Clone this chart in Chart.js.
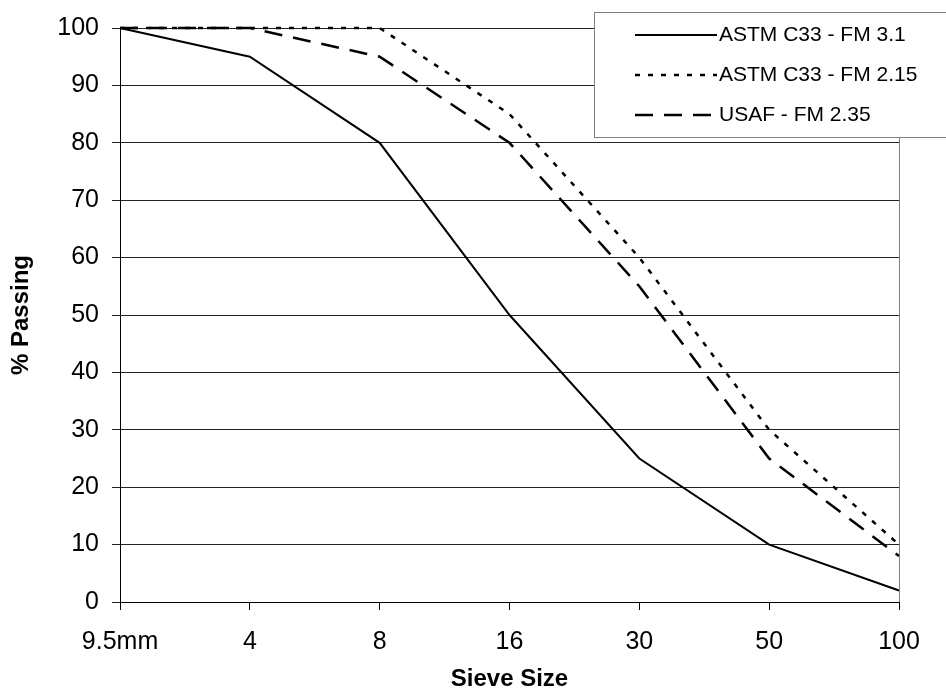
<!DOCTYPE html>
<html>
<head>
<meta charset="utf-8">
<script src="https://cdn.jsdelivr.net/npm/chart.js@4.4.1/dist/chart.umd.min.js"></script>
<style>
  html, body { margin: 0; padding: 0; background: #fff; }
  #wrap { width: 946px; height: 700px; }
</style>
</head>
<body>
<div id="wrap"><canvas id="c" width="946" height="700"></canvas></div>
<script>
const categories = ["9.5mm", "4", "8", "16", "30", "50", "100"];
const seriesNames = ["ASTM C33 - FM 3.1", "ASTM C33 - FM 2.15", "USAF - FM 2.35"];
const astmFM31 = [100, 95, 80, 50, 25, 10, 2];
const astmFM215 = [100, 100, 100, 85, 60, 30, 10];
const usafFM235 = [100, 100, 95, 80, 55, 25, 8];
const yTicks = { min: 0, max: 100, step: 10 };

const FONT = "'Liberation Sans', Arial, Helvetica, sans-serif";

const rightBorder = {
  id: 'rightBorder',
  afterDatasetsDraw(chart) {
    const { ctx, chartArea } = chart;
    ctx.save();
    ctx.strokeStyle = '#808080';
    ctx.lineWidth = 1;
    ctx.beginPath();
    const x = Math.round(chartArea.right) + 0.5;
    ctx.moveTo(x, chartArea.top);
    ctx.lineTo(x, chartArea.bottom);
    ctx.stroke();
    ctx.restore();
  }
};

const boxLegend = {
  id: 'boxLegend',
  afterDraw(chart) {
    const { ctx } = chart;
    const left = 594.5, top = 12.5, right = chart.width + 5, bottom = 137.5;
    ctx.save();
    ctx.fillStyle = '#fff';
    ctx.fillRect(left, top, right - left, bottom - top);
    ctx.strokeStyle = '#808080';
    ctx.lineWidth = 1;
    ctx.strokeRect(left, top, right - left, bottom - top);
    ctx.font = "21px " + FONT;
    ctx.textBaseline = 'middle';
    ctx.textAlign = 'left';
    chart.data.datasets.forEach((ds, i) => {
      const y = 35 + i * 40;
      ctx.strokeStyle = ds.borderColor;
      ctx.lineWidth = ds.borderWidth;
      ctx.setLineDash(ds.borderDash || []);
      ctx.beginPath();
      ctx.moveTo(635, y);
      ctx.lineTo(717, y);
      ctx.stroke();
      ctx.setLineDash([]);
      ctx.fillStyle = '#000';
      ctx.fillText(ds.label, 719, y);
    });
    ctx.restore();
  }
};

new Chart(document.getElementById('c'), {
  type: 'line',
  data: {
    labels: categories,
    datasets: [
      { label: seriesNames[0], data: astmFM31, borderColor: '#000', borderWidth: 2, borderDash: [], pointRadius: 0, tension: 0, fill: false, clip: 4 },
      { label: seriesNames[1], data: astmFM215, borderColor: '#000', borderWidth: 2.5, borderDash: [5, 8], pointRadius: 0, tension: 0, fill: false, clip: 4 },
      { label: seriesNames[2], data: usafFM235, borderColor: '#000', borderWidth: 2.5, borderDash: [18, 11], pointRadius: 0, tension: 0, fill: false, clip: 4 }
    ]
  },
  options: {
    responsive: false,
    animation: false,
    events: [],
    layout: { padding: { top: 25, right: 47, left: 0, bottom: 0 } },
    plugins: { legend: { display: false }, tooltip: { enabled: false } },
    scales: {
      x: {
        type: 'category',
        offset: false,
        grid: { drawOnChartArea: false, drawTicks: true, tickLength: 8, color: '#000' },
        border: { display: true, color: '#000', width: 1 },
        ticks: { color: '#000', font: { family: FONT, size: 25 }, padding: 17, maxRotation: 0, autoSkip: false },
        title: { display: true, text: 'Sieve Size', color: '#000', font: { family: FONT, size: 24, weight: 'bold' }, padding: { top: 0, bottom: 6 } },
        afterFit(scale) { scale.height = 98; }
      },
      y: {
        min: yTicks.min,
        max: yTicks.max,
        grid: { color: '#222', tickLength: 8, drawTicks: true },
        border: { display: true, color: '#000', width: 1 },
        ticks: { stepSize: yTicks.step, color: '#000', font: { family: FONT, size: 25 }, padding: 13 },
        title: { display: true, text: '% Passing', color: '#000', font: { family: FONT, size: 24, weight: 'bold' }, padding: { top: 7, bottom: 0 } },
        afterFit(scale) { scale.width = 120; }
      }
    }
  },
  plugins: [rightBorder, boxLegend]
});
</script>
</body>
</html>
